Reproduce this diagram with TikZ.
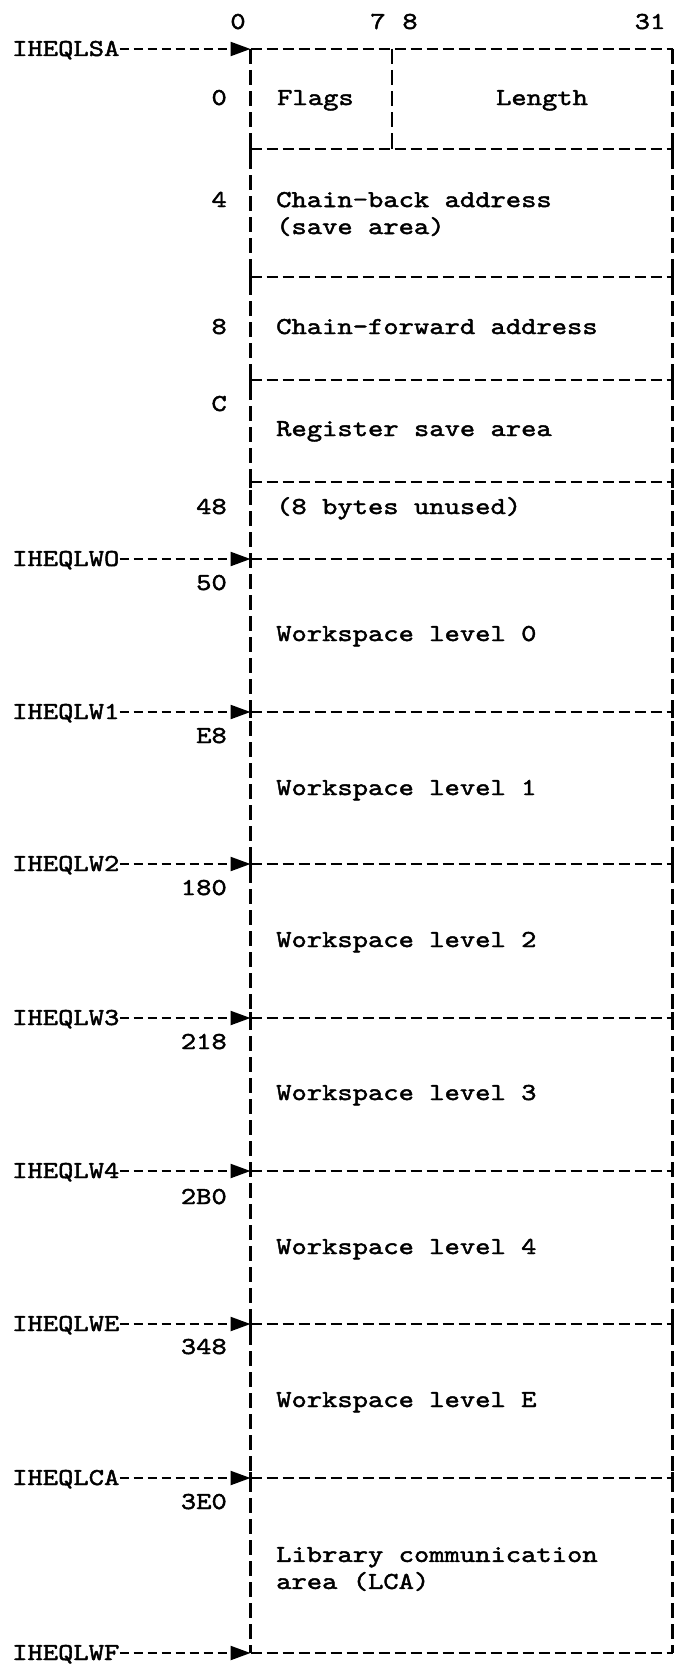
\documentclass[tikz,border=0pt]{standalone}
\usepackage{fontspec}
\setmonofont{lmmono10-regular.otf}[FakeStretch=1.2,FakeBold=1.8]
\usetikzlibrary{arrows.meta}
\tikzset{
  dl/.style={line width=2.5pt, dash pattern=on 11pt off 5pt},
  dv/.style={line width=2.5pt, dash pattern=on 15pt off 6pt},
  tk/.style={line width=2.5pt},
  txt/.style={font=\ttfamily\fontsize{24.3pt}{27pt}\selectfont, inner sep=0pt},
  arr/.style={line width=2.3pt, dash pattern=on 9pt off 5pt, -{Triangle[length=20pt,width=14pt]}},
}
\begin{document}
\begin{tikzpicture}[x=1pt,y=-1pt]
\useasboundingbox (0,0) rectangle (677,1670);
\def\XL{250.5}\def\XR{672.5}\def\XD{392}
\coordinate (X12) at (12,0);
\foreach \n/\y in {top/49, r1/149, r2/277, r3/380, r4/482, w0/559, w1/712, w2/864, w3/1018, w4/1171, we/1324, lca/1478, bot/1653} {
  \coordinate (L\n) at (\XL,\y);
  \coordinate (R\n) at (\XR,\y);
}
\coordinate (Dt) at (\XD,49);
\coordinate (Db) at (\XD,149);
% outline
\draw[dv] (Ltop) -- (Lbot);
\draw[dv] (Rtop) -- (Rbot);
\draw[dv] (Dt) -- (Db);
\foreach \n in {top, r1, r2, r3, r4, w0, w1, w2, w3, w4, we, lca, bot}
  \draw[dl] (L\n) -- (R\n);
% junction ticks
\foreach \n in {r1, r2, r3, r4, w0, w1, w2, w3, w4, we, lca} {
  \draw[tk] ([yshift=-6pt]L\n) -- ([yshift=6pt]L\n);
  \draw[tk] ([yshift=-6pt]R\n) -- ([yshift=6pt]R\n);
}
\draw[tk] (Ltop) -- ++(0,8);
\draw[tk] (Rtop) -- ++(0,8);
\draw[tk] (Lbot) -- ++(0,-8);
\draw[tk] (Rbot) -- ++(0,-8);
\draw[tk] (Dt) -- ++(0,8);
\draw[tk] (Db) -- ++(0,-8);
% bit numbers
\node[txt, anchor=base] (b0) at (238,29) {0};
\node[txt, anchor=base] (b7) at (378,29) {7};
\node[txt, anchor=base] (b8) at (410,29) {8};
\node[txt, anchor=base] (b31) at (650,29) {31};
% pointer labels and arrows
\foreach \n/\t in {top/IHEQLSA, w0/IHEQLWO, w1/IHEQLW1, w2/IHEQLW2, w3/IHEQLW3, w4/IHEQLW4, we/IHEQLWE, lca/IHEQLCA, bot/IHEQLWF} {
  \node[txt, anchor=base west] (n\n) at ([yshift=-7pt]L\n -| X12) {\t};
  \draw[arr] (n\n.east |- L\n) -- (L\n);
}
% offsets
\foreach \t/\y in {0/98, 4/200, 8/327, C/404, 48/507, 50/583, E8/736, 180/888, 218/1042, 2B0/1197, 348/1347, 3E0/1502}
  \node[txt, anchor=base east] (off\t) at (227,\y+7) {\t};
% field texts
\node[txt, anchor=base west] (flags) at (277,105) {Flags};
\node[txt, anchor=base] (length) at (542,105) {Length};
\node[txt, anchor=west, align=left] (cback) at (276,214) {Chain-back address\\(save area)};
\node[txt, anchor=base west] (cfwd) at (276,334) {Chain-forward address};
\node[txt, anchor=base west] (regs) at (276,436) {Register save area};
\node[txt, anchor=base west] (unused) at (276,514) {(8 bytes unused)};
\node[txt, anchor=base west] (ws0) at (276,641) {Workspace level 0};
\node[txt, anchor=base west] (ws1) at (276,795) {Workspace level 1};
\node[txt, anchor=base west] (ws2) at (276,947) {Workspace level 2};
\node[txt, anchor=base west] (ws3) at (276,1100) {Workspace level 3};
\node[txt, anchor=base west] (ws4) at (276,1254) {Workspace level 4};
\node[txt, anchor=base west] (wsE) at (276,1407) {Workspace level E};
\node[txt, anchor=west, align=left] (lca) at (276,1569) {Library communication\\area (LCA)};
\end{tikzpicture}
\end{document}
